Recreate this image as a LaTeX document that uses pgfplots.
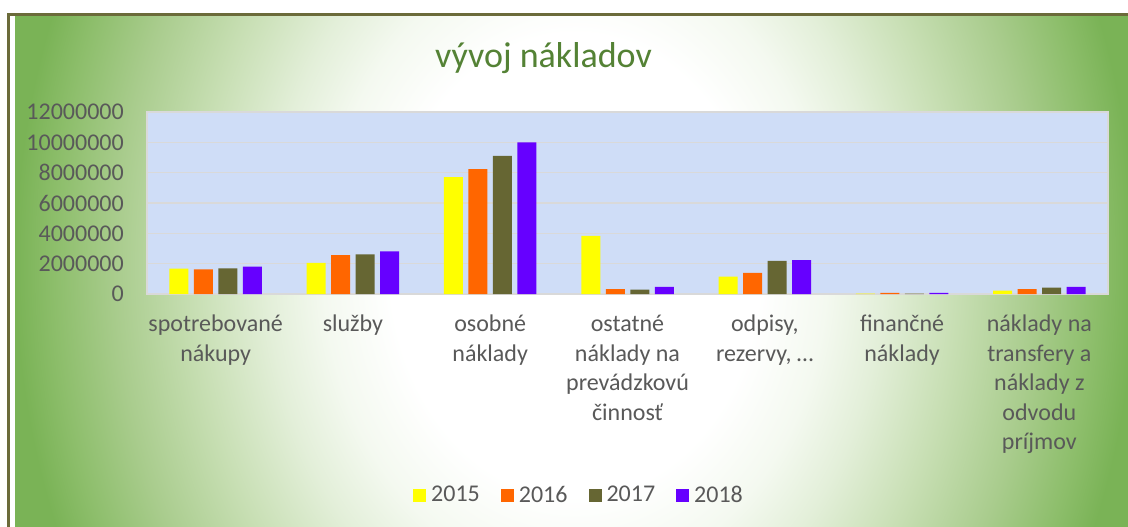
\documentclass[border=0pt]{standalone}
\usepackage{pgfplots}
\pgfplotsset{compat=1.18}
\usepackage{fontspec}
\setmainfont{Carlito}
\definecolor{cY}{HTML}{FFFF00}
\definecolor{cO}{HTML}{FF6600}
\definecolor{cG}{HTML}{666633}
\definecolor{cP}{HTML}{6600FF}
\definecolor{frameC}{HTML}{6B6B3A}
\definecolor{txt}{HTML}{595959}
\definecolor{titleC}{HTML}{548235}
\definecolor{plotbg}{HTML}{CFDDF7}
\definecolor{gridC}{HTML}{D9D9D9}
\definecolor{r1}{HTML}{FFFFFF}
\definecolor{r2}{HTML}{F4F9F0}
\definecolor{r3}{HTML}{E3EFD9}
\definecolor{r4}{HTML}{C8DFB4}
\definecolor{r5}{HTML}{A9CC8D}
\definecolor{r6}{HTML}{8DBE6B}
\definecolor{r7}{HTML}{7AB356}
\pgfdeclareradialshading{bgr}{\pgfpointorigin}{color(0bp)=(r1); color(8.25bp)=(r1); color(11.25bp)=(r2); color(13.75bp)=(r3); color(17bp)=(r4); color(20.5bp)=(r5); color(23.25bp)=(r6); color(25bp)=(r7); color(50bp)=(r7)}
\pgfplotsset{sqlegend/.style={legend image code/.code={\fill[##1,draw=none] (0bp,-7bp) rectangle (13bp,6bp);}}}
\begin{document}
\begin{tikzpicture}
\useasboundingbox (0,0) rectangle (1128bp,-527bp);
\fill[white] (0,0) rectangle (1128bp,-527bp);
\begin{scope}
\clip (8bp,-14bp) rectangle (1128bp,-527bp);
\shade[shading=bgr] (15bp,435bp) rectangle (1135bp,-965bp);
\end{scope}
\draw[frameC, line width=3bp] (8bp,-527bp) -- (8bp,-14bp) -- (1128bp,-14bp);
\node[anchor=base, font=\fontsize{36bp}{40bp}\selectfont, text=titleC, inner sep=0pt] at (543.5bp,-67bp) {vývoj nákladov};
\begin{axis}[
  at={(147bp,-294bp)}, anchor=south west,
  scale only axis, width=961bp, height=182bp,
  ymin=0, ymax=12000000, xmin=-0.5, xmax=6.5,
  ybar=5.5bp, bar width=19bp,
  axis background/.style={fill=plotbg},
  axis line style={draw=gridC, line width=1.5bp},
  ymajorgrids, grid style={draw=gridC, line width=1.5bp},
  major tick length=0pt,
  tick style={draw=none},
  ytick={0,2000000,4000000,6000000,8000000,10000000,12000000},
  yticklabels={0,2000000,4000000,6000000,8000000,10000000,12000000},
  scaled y ticks=false,
  xtick={0,1,2,3,4,5,6},
  xticklabels={{spotrebované\\nákupy},{služby},{osobné\\náklady},{ostatné\\náklady na\\prevádzkovú\\činnosť},{odpisy,\\rezervy, \ldots},{finančné\\náklady},{náklady na\\transfery a\\náklady z\\odvodu\\príjmov}},
  ticklabel style={font=\fontsize{24bp}{29.5bp}\selectfont, text=txt},
  yticklabel style={anchor=east, inner sep=0pt, xshift=-23bp},
  xticklabel style={anchor=north, inner sep=0pt, yshift=-21bp, align=center},
  legend columns=4,
  legend style={draw=none, fill=none, at={(0.4485,-1.104)}, anchor=center,
    font=\fontsize{24bp}{29.5bp}\selectfont, text=txt,
    nodes={inner sep=0pt},
    /tikz/every odd column/.append style={column sep=5bp},
    /tikz/every even column/.append style={column sep=21bp}},
]
\addplot[fill=cY, draw=none, sqlegend] coordinates {(0,1670000) (1,2050000) (2,7710000) (3,3830000) (4,1140000) (5,20000) (6,220000)};
\addlegendentry{2015}
\addplot[fill=cO, draw=none, sqlegend] coordinates {(0,1630000) (1,2560000) (2,8240000) (3,330000) (4,1400000) (5,70000) (6,330000)};
\addlegendentry{2016}
\addplot[fill=cG, draw=none, sqlegend] coordinates {(0,1690000) (1,2610000) (2,9110000) (3,290000) (4,2180000) (5,30000) (6,420000)};
\addlegendentry{2017}
\addplot[fill=cP, draw=none, sqlegend] coordinates {(0,1800000) (1,2810000) (2,10000000) (3,470000) (4,2230000) (5,70000) (6,470000)};
\addlegendentry{2018}
\end{axis}
\end{tikzpicture}
\end{document}
